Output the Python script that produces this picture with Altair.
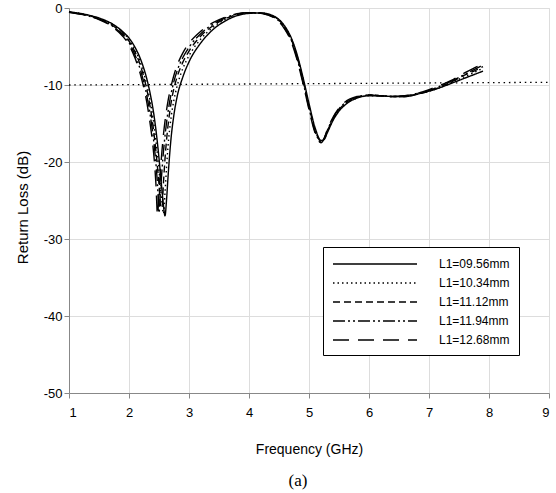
import altair as alt
import pandas as pd

# ---------------- data ----------------
FREQ = [1.0, 1.25, 1.5, 1.75, 1.9, 2.0, 2.1, 2.2, 2.3, 2.35,
        2.4, 2.425, 2.45, 2.475, 2.5, 2.525, 2.55, 2.575, 2.6, 2.625,
        2.65, 2.7, 2.75, 2.8, 2.9, 3.0, 3.2, 3.4, 3.6, 3.8,
        4.0, 4.2, 4.4, 4.5, 4.6, 4.7, 4.8, 4.9, 5.0, 5.1,
        5.2, 5.25, 5.3, 5.4, 5.5, 5.6, 5.8, 6.0, 6.2, 6.4,
        6.6, 6.8, 7.0, 7.2, 7.4, 7.6, 7.8, 7.9]

NAMES = ["L1=09.56mm", "L1=10.34mm", "L1=11.12mm", "L1=11.94mm", "L1=12.68mm"]

L1_0956 = [-0.5, -0.8, -1.3, -2.2, -3.1, -3.9, -5.1, -6.8, -9.3, -11.0,
           -13.1, -14.4, -15.9, -17.6, -19.5, -21.6, -23.7, -25.7, -27.0, -25.0,
           -22.0, -17.0, -13.8, -11.6, -8.9, -7.0, -4.5, -2.8, -1.7, -1.0,
           -0.7, -0.65, -1.0, -1.5, -2.4, -3.8, -6.0, -9.0, -12.4, -15.5,
           -17.2, -17.1, -16.3, -14.6, -13.4, -12.6, -11.7, -11.4, -11.4, -11.5,
           -11.5, -11.2, -10.8, -10.3, -9.7, -9.1, -8.5, -8.2]
L1_1034 = [-0.5, -0.8, -1.35, -2.3, -3.2, -4.1, -5.4, -7.3, -10.1, -12.0,
           -14.3, -15.7, -17.3, -19.1, -21.1, -23.2, -25.4, -26.7, -24.0, -20.8,
           -18.0, -14.3, -11.9, -10.2, -7.8, -6.2, -4.0, -2.5, -1.5, -0.9,
           -0.65, -0.65, -1.05, -1.55, -2.5, -3.9, -6.2, -9.2, -12.6, -15.7,
           -17.3, -17.1, -16.2, -14.5, -13.3, -12.5, -11.7, -11.4, -11.4, -11.5,
           -11.5, -11.2, -10.8, -10.3, -9.6, -8.9, -8.2, -7.8]
L1_1112 = [-0.5, -0.85, -1.4, -2.4, -3.3, -4.3, -5.7, -7.7, -10.7, -12.7,
           -15.3, -16.9, -18.7, -20.7, -22.9, -25.6, -25.9, -22.6, -19.6, -17.2,
           -15.3, -12.4, -10.4, -9.0, -7.0, -5.6, -3.6, -2.3, -1.4, -0.85,
           -0.6, -0.65, -1.1, -1.6, -2.6, -4.0, -6.3, -9.4, -12.8, -15.8,
           -17.3, -17.0, -16.1, -14.4, -13.2, -12.4, -11.6, -11.3, -11.4, -11.5,
           -11.5, -11.2, -10.8, -10.2, -9.5, -8.7, -8.0, -7.6]
L1_1194 = [-0.55, -0.9, -1.45, -2.5, -3.5, -4.5, -6.1, -8.3, -11.5, -13.7,
           -16.5, -18.2, -20.3, -22.9, -26.6, -23.8, -21.0, -18.6, -16.6, -14.9,
           -13.5, -11.2, -9.5, -8.2, -6.4, -5.1, -3.3, -2.1, -1.3, -0.8,
           -0.6, -0.7, -1.15, -1.7, -2.7, -4.1, -6.5, -9.6, -13.0, -16.0,
           -17.4, -17.0, -16.0, -14.3, -13.1, -12.3, -11.6, -11.3, -11.4, -11.5,
           -11.4, -11.1, -10.7, -10.1, -9.4, -8.6, -7.8, -7.4]
L1_1268 = [-0.55, -0.9, -1.5, -2.6, -3.7, -4.8, -6.5, -8.9, -12.4, -14.9,
           -18.0, -20.1, -23.0, -26.9, -24.0, -21.0, -18.5, -16.4, -14.7, -13.3,
           -12.1, -10.2, -8.7, -7.5, -5.8, -4.6, -3.0, -1.9, -1.2, -0.75,
           -0.6, -0.7, -1.2, -1.8, -2.8, -4.3, -6.7, -9.8, -13.2, -16.2,
           -17.5, -17.0, -15.9, -14.2, -13.0, -12.2, -11.5, -11.3, -11.4, -11.5,
           -11.4, -11.1, -10.6, -10.0, -9.3, -8.4, -7.6, -7.2]

SERIES = [L1_0956, L1_1034, L1_1112, L1_1194, L1_1268]
DASHES = [[1, 0], [1.5, 3], [7, 4], [12, 3, 2, 3, 2, 3], [16, 9]]

REF_FREQ = [1.0, 9.0]
REF_DB = [-10.0, -9.65]

X_TICKS = [1, 2, 3, 4, 5, 6, 7, 8, 9]
Y_TICKS = [-50, -40, -30, -20, -10, 0]

rows = []
for name, vals in zip(NAMES, SERIES):
    for f, v in zip(FREQ, vals):
        rows.append({"f": f, "db": v, "series": name})
df = pd.DataFrame(rows)
ref = pd.DataFrame({"f": REF_FREQ, "db": REF_DB})

FONT = "Liberation Sans"

x = alt.X("f:Q", scale=alt.Scale(domain=[1, 9], nice=False, zero=False),
          axis=alt.Axis(title="Frequency (GHz)", values=X_TICKS,
                        labelExpr="'' + datum.value", labelFontSize=13,
                        labelPadding=8, titleY=60, titleBaseline="alphabetic",
                        titleFontSize=14, titleFontWeight="normal"))
y = alt.Y("db:Q", scale=alt.Scale(domain=[-50, 0], nice=False),
          axis=alt.Axis(title="Return Loss (dB)", values=Y_TICKS,
                        labelExpr="'' + datum.value", labelFontSize=13,
                        labelPadding=2, titleX=-47, titleY=199,
                        titleBaseline="middle", titleAlign="center",
                        titleFontSize=15, titleFontWeight="normal"))

refline = alt.Chart(ref).mark_line(color="black", strokeWidth=1.3,
                                   strokeDash=[1.5, 3.8]).encode(x=x, y=y)

lines = alt.Chart(df).mark_line(color="black", strokeWidth=1.4,
                                interpolate="monotone").encode(
    x=x, y=y,
    strokeDash=alt.StrokeDash(
        "series:N",
        scale=alt.Scale(domain=NAMES, range=DASHES),
        legend=alt.Legend(title=None, orient="none", legendX=254, legendY=239,
                          symbolType="M-1,0H11", symbolSize=196,
                          symbolStrokeWidth=1.3, symbolStrokeColor="black",
                          symbolFillColor="transparent",
                          labelFont=FONT, labelFontSize=12, labelColor="black",
                          labelOffset=91, padding=9, rowPadding=5,
                          strokeColor="black", fillColor="white",
                          labelLimit=300)),
)

chart = alt.layer(refline, lines).properties(
    width=480, height=385,
    autosize=alt.AutoSizeParams(type="none"),
    padding={"left": 69, "top": 8, "right": 7, "bottom": 100},
    title=alt.TitleParams("(a)", orient="bottom", anchor="middle",
                          font="Liberation Serif", fontSize=17,
                          fontWeight="normal", color="black", offset=17, dx=-11),
).configure_view(stroke="black", strokeWidth=1).configure_axis(
    grid=False, domainColor="black", tickColor="black", tickSize=5,
    labelColor="black", titleColor="black", labelFont=FONT, titleFont=FONT,
    labelFontSize=12, titleFontSize=12, titleFontWeight="normal",
    domainWidth=1, tickWidth=1,
).configure(background="white")

chart.save("out.html", embed_options={"renderer": "svg", "actions": False})
